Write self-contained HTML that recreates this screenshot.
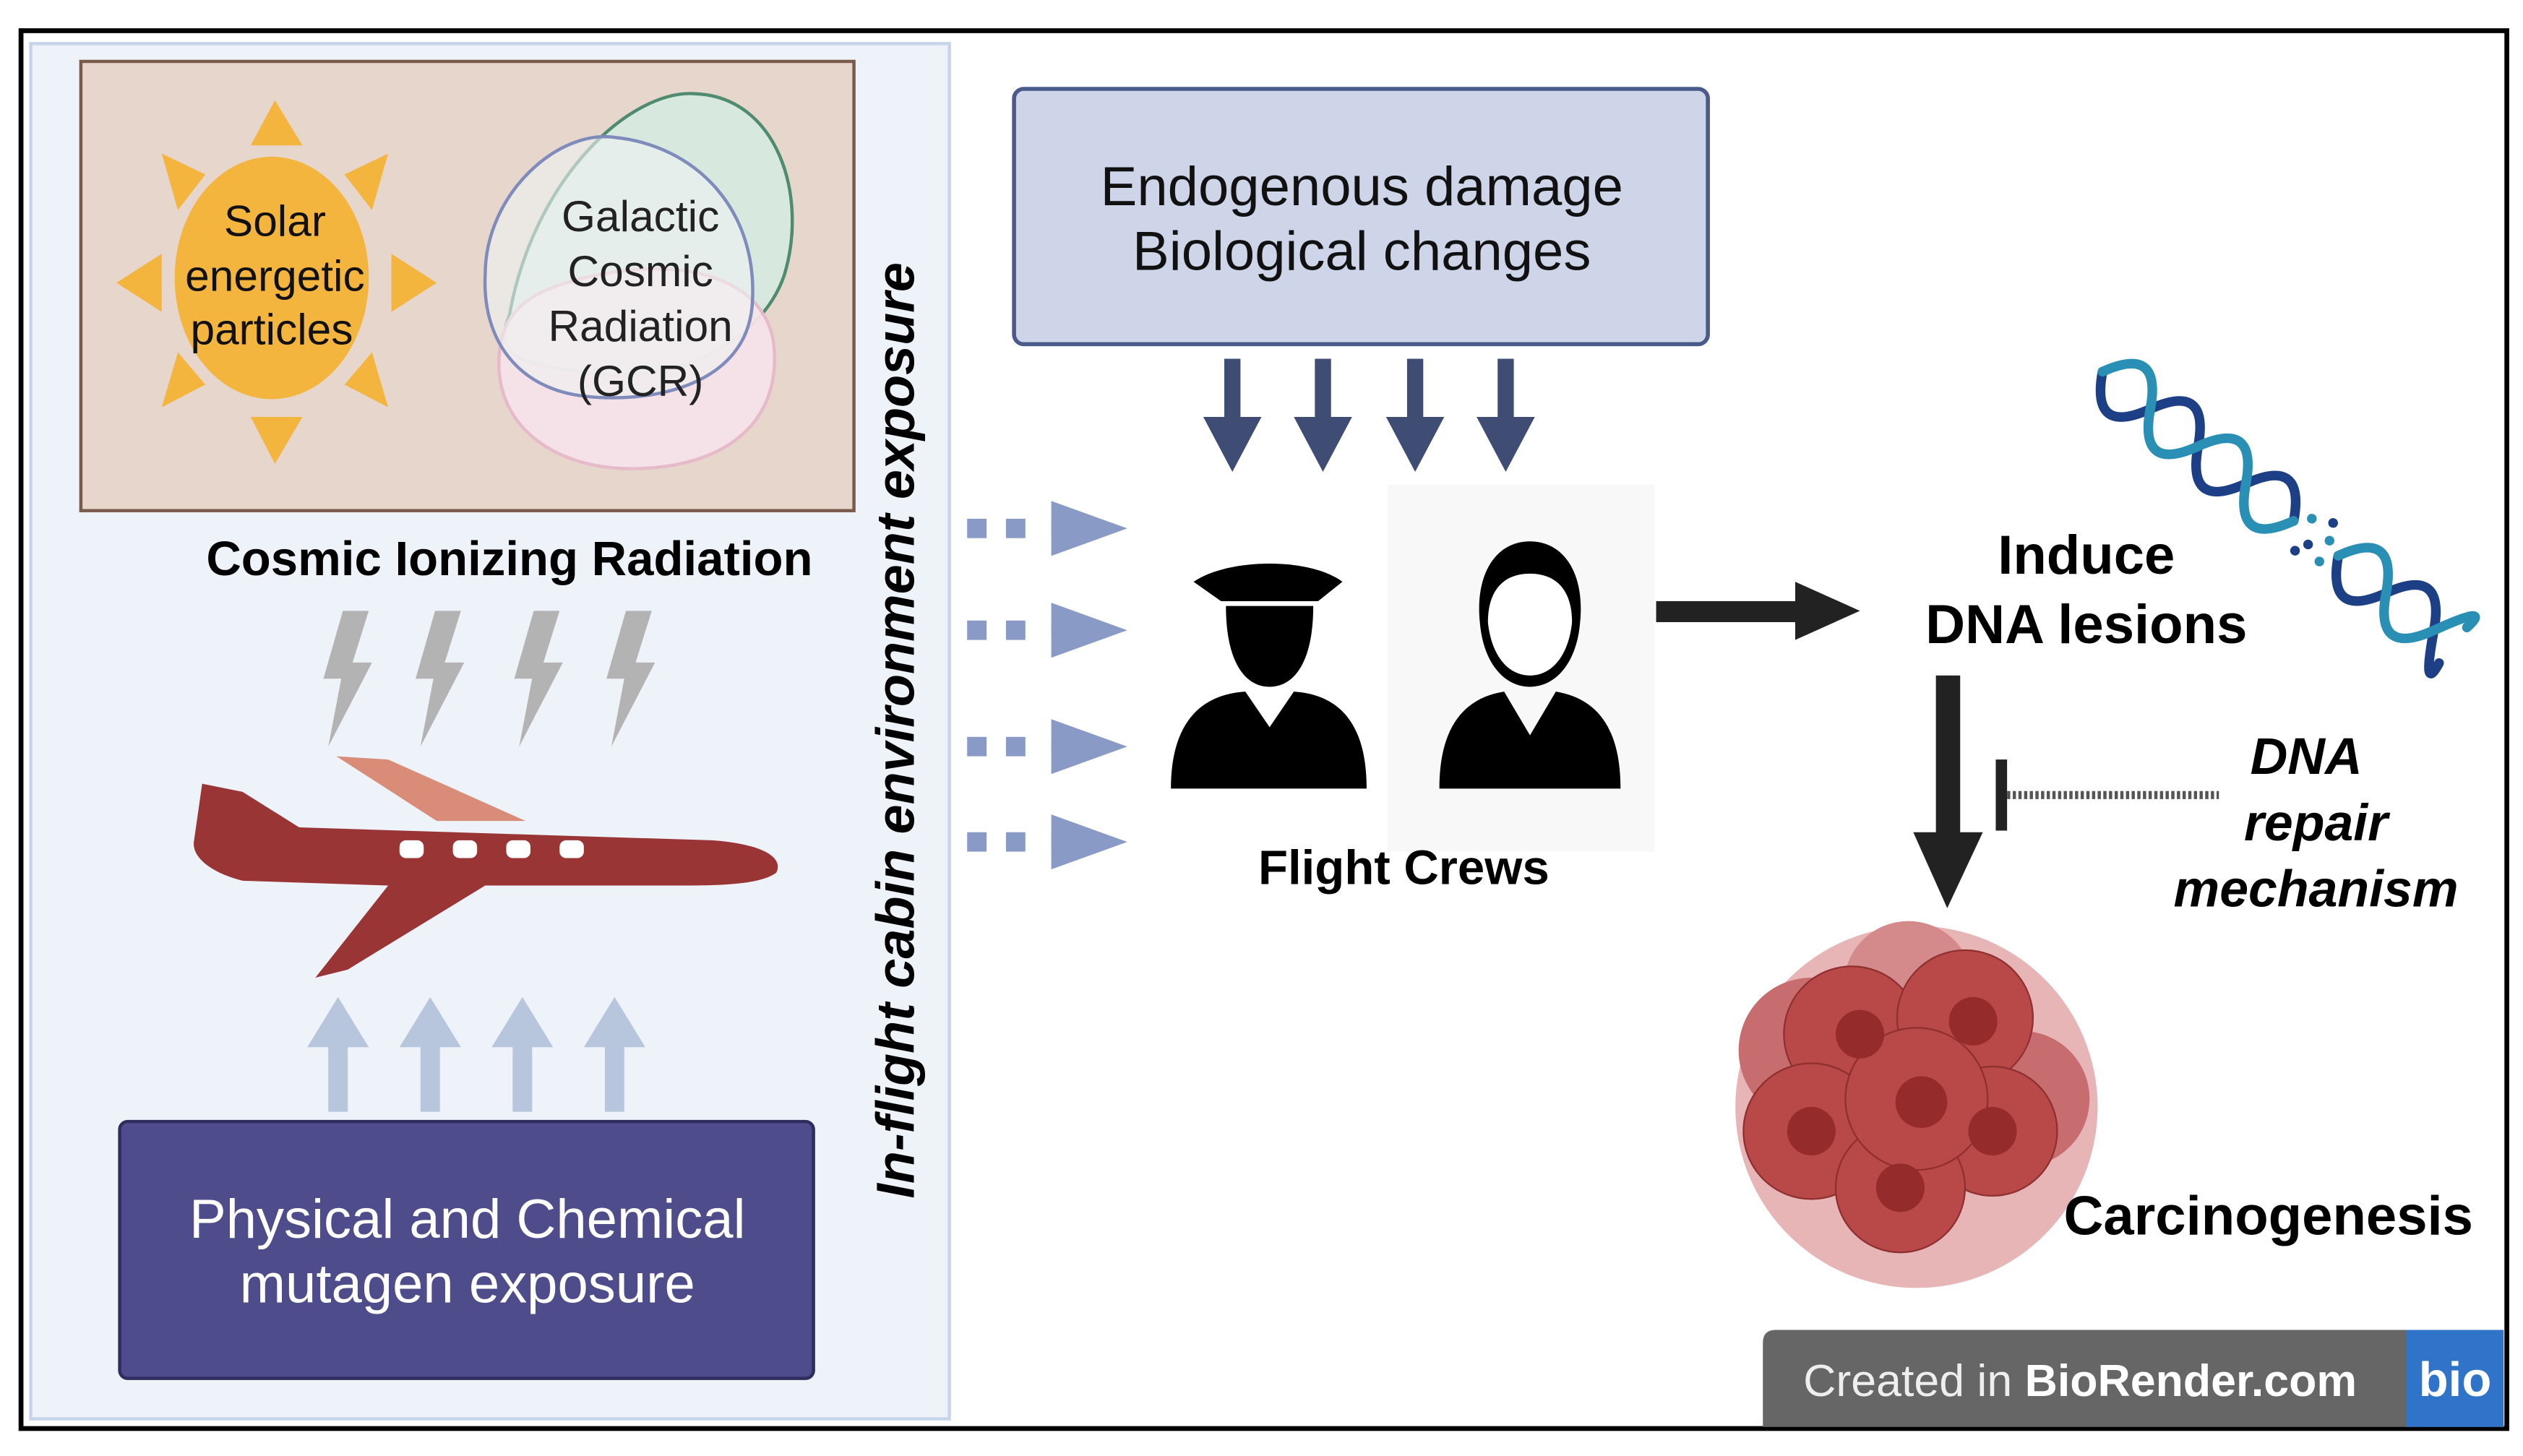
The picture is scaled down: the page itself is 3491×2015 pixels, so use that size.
<!DOCTYPE html>
<html><head><meta charset="utf-8"><style>html,body{margin:0;padding:0;background:#fff}svg{display:block}text{font-family:"Liberation Sans",sans-serif}</style></head><body>
<svg width="3491" height="2015" viewBox="0 0 1560 901" preserveAspectRatio="none" xmlns="http://www.w3.org/2000/svg">
<rect x="0" y="0" width="1560" height="901" fill="#fff"/>
<rect x="13" y="19" width="1537" height="865" fill="#fff" stroke="#000" stroke-width="3"/>
<rect x="19" y="27" width="568" height="851" fill="#eef2f9" stroke="#c7d4ea" stroke-width="2"/>
<rect x="50" y="38" width="478" height="278" fill="#e6d6cb" stroke="#7a5a4a" stroke-width="2"/>
<!-- sun -->
<g fill="#f4b53f">
<ellipse cx="168" cy="172" rx="60" ry="75"/>
<polygon points="170,62 155,90 187,90"/><polygon points="170,287 155,258 187,258"/>
<polygon points="72,175 100,157 100,193"/><polygon points="270,175 242,157 242,193"/>
<polygon points="100,95 127,108 110,130"/><polygon points="240,95 213,108 230,130"/>
<polygon points="100,252 127,238 110,218"/><polygon points="240,252 213,238 230,218"/>
</g>
<text font-size="27" text-anchor="middle" fill="#111"><tspan x="170" y="146">Solar</tspan><tspan x="170" y="180">energetic</tspan><tspan x="168" y="213">particles</tspan></text>
<!-- GCR blobs -->
<path d="M315,195 C330,110 390,55 430,58 C480,60 500,120 485,170 C470,215 410,240 360,230 C320,225 305,220 315,195Z" fill="#d7e8df" stroke="#4e8b6f" stroke-width="2"/>
<path d="M310,210 C300,260 340,290 390,290 C450,290 485,260 478,210 C470,170 420,160 370,170 C330,178 315,190 310,210Z" fill="#f6e3ea" stroke="#e6b9c9" stroke-width="2" opacity="0.95"/>
<path d="M300,170 C300,120 345,80 380,85 C430,90 470,130 465,190 C460,240 400,250 360,245 C320,240 298,210 300,170Z" fill="#eef1f2" fill-opacity="0.6" stroke="#7f8cbb" stroke-width="2"/>
<text font-size="27" text-anchor="middle" fill="#222"><tspan x="396" y="143">Galactic</tspan><tspan x="396" y="177">Cosmic</tspan><tspan x="396" y="211">Radiation</tspan><tspan x="396" y="245">(GCR)</tspan></text>
<text x="315" y="356" font-size="30" font-weight="bold" text-anchor="middle" fill="#000">Cosmic Ionizing Radiation</text>
<!-- bolts -->
<g fill="#b3b3b3">
<polygon points="212,378 228,378 218,410 230,410 203,462 211,420 200,420"/>
<polygon points="269,378 285,378 275,410 287,410 260,462 268,420 257,420"/>
<polygon points="330,378 346,378 336,410 348,410 321,462 329,420 318,420"/>
<polygon points="387,378 403,378 393,410 405,410 378,462 386,420 375,420"/>
</g>
<!-- plane -->
<g fill="#9a3535">
<path d="M120,520 L125,485 L150,490 L185,512 L440,520 C470,522 485,530 480,540 C470,548 440,548 420,548 L300,548 L215,600 L195,605 L240,548 L150,545 C130,540 118,530 120,520Z"/>
</g>
<polygon points="208,468 240,470 325,508 270,508" fill="#d98d78"/>
<g fill="#fff"><rect x="247" y="520" width="15" height="11" rx="4"/><rect x="280" y="520" width="15" height="11" rx="4"/><rect x="313" y="520" width="15" height="11" rx="4"/><rect x="346" y="520" width="15" height="11" rx="4"/></g>
<!-- up arrows -->
<g fill="#b7c6dc">
<polygon points="209,617 190,648 203,648 203,688 215,688 215,648 228,648"/>
<polygon points="266,617 247,648 260,648 260,688 272,688 272,648 285,648"/>
<polygon points="323,617 304,648 317,648 317,688 329,688 329,648 342,648"/>
<polygon points="380,617 361,648 374,648 374,688 386,688 386,648 399,648"/>
</g>
<rect x="74" y="694" width="429" height="159" rx="5" fill="#4f4c8b" stroke="#2e2d60" stroke-width="2"/>
<text font-size="34" text-anchor="middle" fill="#fff"><tspan x="289" y="766">Physical and Chemical</tspan><tspan x="289" y="806">mutagen exposure</tspan></text>
<text transform="translate(565,452) rotate(-90)" font-size="33" font-weight="bold" font-style="italic" text-anchor="middle" fill="#000">In-flight cabin environment exposure</text>
<!-- endogenous -->
<rect x="627" y="55" width="429" height="158" rx="6" fill="#cfd5e9" stroke="#4a5a8a" stroke-width="2.5"/>
<text font-size="34" text-anchor="middle" fill="#111"><tspan x="842" y="127">Endogenous damage</tspan><tspan x="842" y="167">Biological changes</tspan></text>
<g fill="#3f4d75">
<polygon points="757,222 767,222 767,258 780,258 762,292 744,258 757,258"/>
<polygon points="813,222 823,222 823,258 836,258 818,292 800,258 813,258"/>
<polygon points="870,222 880,222 880,258 893,258 875,292 857,258 870,258"/>
<polygon points="926,222 936,222 936,258 949,258 931,292 913,258 926,258"/>
</g>
<!-- dotted arrows -->
<g fill="#8a9ac6">
<g id="da"><rect x="598" y="321" width="12" height="12"/><rect x="622" y="321" width="12" height="12"/><polygon points="650,310 697,327 650,344"/></g>
<use href="#da" y="63"/><use href="#da" y="135"/><use href="#da" y="194"/>
</g>
<!-- crew -->
<rect x="858" y="300" width="165" height="227" fill="#f8f8f8"/>
<g fill="#000">
<path d="M738,360 C760,345 810,345 830,360 L815,372 L755,372Z"/>
<path d="M758,375 L812,375 C812,410 800,425 785,425 C770,425 758,410 758,375Z"/>
<path d="M724,488 C724,450 740,430 770,428 L785,450 L800,428 C830,430 845,450 845,488Z"/>
<path d="M946,335 C925,335 912,355 915,385 C917,410 930,425 946,425 C962,425 975,410 977,385 C980,355 967,335 946,335Z"/>
<path d="M890,488 C890,450 905,432 930,428 L946,455 L962,428 C987,432 1002,450 1002,488Z"/>
</g>
<path d="M920,385 C920,365 930,355 946,355 C962,355 972,365 972,385 C970,405 960,418 946,418 C932,418 922,405 920,385Z" fill="#fff"/>
<text x="868" y="547" font-size="30" font-weight="bold" text-anchor="middle" fill="#000">Flight Crews</text>
<!-- arrow right -->
<rect x="1024" y="372" width="90" height="13" fill="#222"/><polygon points="1110,360 1150,378 1110,396" fill="#222"/>
<text font-size="34" font-weight="bold" text-anchor="middle" fill="#000"><tspan x="1290" y="355">Induce</tspan><tspan x="1290" y="398">DNA lesions</tspan></text>
<!-- DNA helix -->
<g transform="translate(1300,230) rotate(38)" fill="none" stroke-width="6" stroke-linecap="round">
<path d="M0,0 Q18.75,36 37.5,0 T75,0 T112.5,0 T150,0" stroke="#1c3f86"/>
<path d="M0,0 Q18.75,-36 37.5,0 T75,0 T112.5,0 T150,0" stroke="#2a8fb5"/>
<path d="M185,0 Q203.75,36 222.5,0 T260,0 T275,14" stroke="#1c3f86"/>
<path d="M185,0 Q203.75,-36 222.5,0 T260,0 T275,-14" stroke="#2a8fb5"/>
<g stroke="none"><circle cx="158" cy="-8" r="3" fill="#2a8fb5"/><circle cx="166" cy="6" r="3" fill="#1c3f86"/><circle cx="175" cy="-4" r="3" fill="#2a8fb5"/><circle cx="162" cy="14" r="3" fill="#1c3f86"/><circle cx="178" cy="10" r="3" fill="#2a8fb5"/><circle cx="170" cy="-14" r="3" fill="#1c3f86"/></g>
</g>
<!-- down arrow -->
<rect x="1197" y="418" width="15" height="100" fill="#222"/><polygon points="1183,515 1226,515 1204,562" fill="#222"/>
<rect x="1234" y="470" width="7" height="44" fill="#222"/>
<line x1="1241" y1="492" x2="1372" y2="492" stroke="#555" stroke-width="5" stroke-dasharray="2,1.5"/>
<text font-size="32" font-weight="bold" font-style="italic" text-anchor="middle" fill="#000"><tspan x="1426" y="479">DNA</tspan><tspan x="1432" y="520">repair</tspan><tspan x="1432" y="561">mechanism</tspan></text>
<!-- tumor -->
<g>
<circle cx="1185" cy="685" r="112" fill="#e8b5b6"/>
<circle cx="1120" cy="650" r="45" fill="#c86d6f"/><circle cx="1250" cy="680" r="42" fill="#c86d6f"/><circle cx="1180" cy="610" r="40" fill="#d48a8b"/>
<circle cx="1145" cy="640" r="42" fill="#b94848" stroke="#8e2f30"/><circle cx="1215" cy="630" r="42" fill="#b94848" stroke="#8e2f30"/>
<circle cx="1120" cy="700" r="42" fill="#b94848" stroke="#8e2f30"/><circle cx="1232" cy="700" r="40" fill="#b94848" stroke="#8e2f30"/>
<circle cx="1175" cy="735" r="40" fill="#b94848" stroke="#8e2f30"/><circle cx="1185" cy="680" r="44" fill="#b94848" stroke="#8e2f30"/>
<g fill="#962b2c"><circle cx="1150" cy="640" r="15"/><circle cx="1220" cy="632" r="15"/><circle cx="1120" cy="700" r="15"/><circle cx="1232" cy="700" r="15"/><circle cx="1175" cy="735" r="15"/><circle cx="1188" cy="682" r="16"/></g>
</g>
<text x="1276" y="764" font-size="34" font-weight="bold" fill="#000">Carcinogenesis</text>
<!-- biorender -->
<path d="M1098,823 L1548,823 L1548,883 L1090,883 L1090,831 Q1090,823 1098,823Z" fill="#666"/>
<rect x="1488" y="823" width="60" height="60" fill="#2f74c8"/>
<text x="1115" y="864" font-size="28" fill="#eee">Created in <tspan font-weight="bold" fill="#fff">BioRender.com</tspan></text>
<text x="1518" y="864" font-size="30" font-weight="bold" fill="#fff" text-anchor="middle">bio</text>
</svg>
</body></html>
